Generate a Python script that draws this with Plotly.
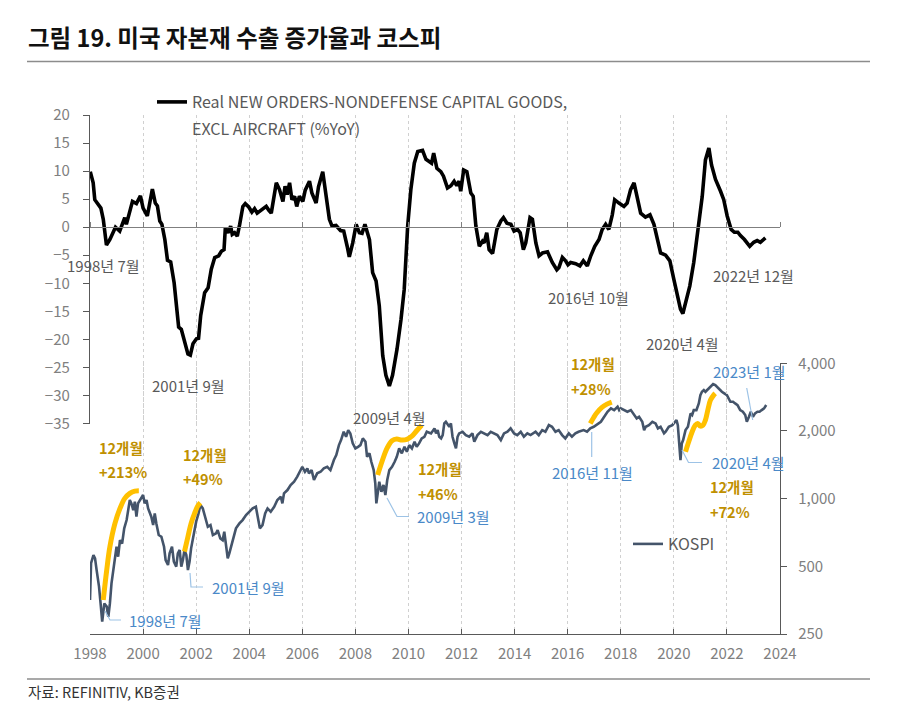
import math
import plotly.graph_objects as go

# ---------------- data ----------------
US_YEARS = [
    1998.01, 1998.12, 1998.18, 1998.31, 1998.41, 1998.50, 1998.62, 1998.75, 1998.87, 1998.96,
    1999.12, 1999.25, 1999.31, 1999.37, 1999.47, 1999.60, 1999.75, 1999.90, 2000.00, 2000.16,
    2000.35, 2000.46, 2000.54, 2000.63, 2000.71, 2000.82, 2000.92, 2001.04, 2001.17, 2001.25,
    2001.34, 2001.44, 2001.57, 2001.69, 2001.78, 2001.88, 2002.01, 2002.09, 2002.17, 2002.32,
    2002.45, 2002.57, 2002.70, 2002.85, 2002.95, 2003.05, 2003.10, 2003.20, 2003.30, 2003.36,
    2003.45, 2003.55, 2003.64, 2003.76, 2003.85, 2003.98, 2004.10, 2004.20, 2004.30, 2004.39,
    2004.55, 2004.64, 2004.74, 2004.83, 2005.02, 2005.14, 2005.27, 2005.35, 2005.43, 2005.52,
    2005.61, 2005.71, 2005.79, 2005.89, 2006.02, 2006.11, 2006.27, 2006.36, 2006.52, 2006.61,
    2006.77, 2006.90, 2007.02, 2007.12, 2007.27, 2007.44, 2007.56, 2007.69, 2007.77, 2007.90,
    2008.03, 2008.15, 2008.25, 2008.36, 2008.53, 2008.65, 2008.78, 2008.90, 2009.03, 2009.15,
    2009.28, 2009.40, 2009.57, 2009.72, 2009.84, 2009.97, 2010.09, 2010.22, 2010.35, 2010.53,
    2010.66, 2010.78, 2010.87, 2010.95, 2011.07, 2011.22, 2011.32, 2011.47, 2011.60, 2011.72,
    2011.82, 2011.91, 2011.97, 2012.08, 2012.20, 2012.35, 2012.44, 2012.54, 2012.67, 2012.79,
    2012.85, 2012.95, 2013.04, 2013.17, 2013.33, 2013.48, 2013.58, 2013.71, 2013.86, 2013.98,
    2014.11, 2014.21, 2014.33, 2014.42, 2014.58, 2014.67, 2014.80, 2014.92, 2015.05, 2015.24,
    2015.42, 2015.59, 2015.67, 2015.80, 2015.92, 2016.01, 2016.11, 2016.30, 2016.46, 2016.59,
    2016.74, 2016.87, 2017.02, 2017.18, 2017.30, 2017.43, 2017.55, 2017.68, 2017.77, 2017.93,
    2018.12, 2018.24, 2018.37, 2018.50, 2018.62, 2018.75, 2018.93, 2019.10, 2019.25, 2019.37,
    2019.50, 2019.69, 2019.85, 2020.00, 2020.15, 2020.25, 2020.34, 2020.44, 2020.60, 2020.75,
    2020.90, 2021.07, 2021.19, 2021.32, 2021.42, 2021.57, 2021.76, 2021.88, 2022.01, 2022.16,
    2022.28, 2022.41, 2022.51, 2022.66, 2022.86, 2023.01, 2023.14, 2023.26, 2023.45,
]
US_YOY = [
    9.9, 7.9, 4.9, 4.0, 3.4, 1.4, -3.2, -2.2, -0.7, 0.0,
    -0.7, 1.1, 1.7, 0.5, 2.2, 4.6, 4.2, 5.6, 3.4, 2.0,
    6.8, 4.3, 3.8, 1.1, 0.5, -2.2, -5.9, -6.2, -9.9, -14.0,
    -17.8, -18.2, -20.8, -22.6, -22.8, -20.8, -19.9, -19.8, -15.8, -11.7,
    -10.8, -7.5, -5.4, -5.1, -4.3, -4.0, -0.1, -1.0, 0.2, -1.3,
    -1.0, -1.6, 0.5, 3.7, 4.2, 3.6, 2.7, 3.3, 2.5, 2.8,
    3.4, 3.7, 3.0, 2.5, 7.9, 6.7, 4.6, 7.3, 5.8, 7.9,
    4.9, 5.5, 3.7, 5.5, 4.6, 6.6, 8.2, 6.1, 4.3, 7.2,
    9.9, 5.5, 1.4, 0.2, 0.3, -0.6, -0.7, -3.4, -5.3, -2.8,
    0.5, -1.0, -1.1, 0.5, -2.2, -8.1, -9.6, -14.0, -22.9, -26.4,
    -28.3, -26.4, -21.7, -16.4, -11.1, 0.2, 6.7, 11.4, 13.5, 13.7,
    12.1, 11.7, 11.4, 13.2, 10.5, 9.9, 9.1, 7.0, 7.4, 8.2,
    7.4, 8.2, 6.4, 10.2, 9.9, 6.1, 5.5, 0.2, -3.4, -2.5,
    -2.8, -1.0, -4.0, -4.7, -0.4, 1.1, 1.7, 0.7, 0.5, -0.7,
    -0.4, -1.0, -4.0, -2.8, 1.7, 1.4, -2.8, -5.1, -4.6, -4.4,
    -6.3, -7.6, -7.2, -5.4, -6.0, -6.7, -6.3, -6.5, -6.9, -6.0,
    -6.9, -5.1, -3.4, -2.2, -0.4, 0.5, -0.4, 2.2, 4.9, 4.3,
    3.7, 4.3, 6.7, 7.9, 4.9, 2.5, 1.8, 2.2, 0.5, -2.2,
    -4.6, -5.0, -6.0, -9.3, -12.2, -14.6, -15.4, -13.7, -10.5, -6.3,
    -0.4, 5.5, 12.0, 14.1, 11.1, 8.5, 6.4, 4.9, 2.0, -0.4,
    -0.9, -0.9, -1.5, -2.2, -3.4, -2.7, -2.4, -2.7, -1.9,
]

KOSPI_YEARS = [
    1998.00, 1998.04, 1998.13, 1998.19, 1998.25, 1998.34, 1998.41, 1998.46, 1998.54, 1998.63,
    1998.69, 1998.75, 1998.81, 1998.91, 1999.00, 1999.06, 1999.13, 1999.21, 1999.29, 1999.38,
    1999.44, 1999.50, 1999.56, 1999.63, 1999.69, 1999.75, 1999.81, 1999.91, 2000.00, 2000.06,
    2000.13, 2000.19, 2000.25, 2000.31, 2000.38, 2000.44, 2000.50, 2000.59, 2000.69, 2000.79,
    2000.85, 2000.94, 2001.00, 2001.09, 2001.16, 2001.25, 2001.31, 2001.38, 2001.44, 2001.50,
    2001.56, 2001.63, 2001.69, 2001.75, 2001.81, 2001.91, 2002.00, 2002.09, 2002.16, 2002.25,
    2002.34, 2002.44, 2002.54, 2002.63, 2002.75, 2002.81, 2002.91, 2003.00, 2003.06, 2003.13,
    2003.19, 2003.25, 2003.38, 2003.50, 2003.63, 2003.75, 2003.88, 2004.00, 2004.13, 2004.25,
    2004.31, 2004.40, 2004.50, 2004.60, 2004.69, 2004.81, 2004.94, 2005.06, 2005.19, 2005.25,
    2005.31, 2005.44, 2005.56, 2005.69, 2005.81, 2005.90, 2006.00, 2006.10, 2006.19, 2006.25,
    2006.35, 2006.44, 2006.56, 2006.69, 2006.81, 2006.94, 2007.06, 2007.19, 2007.28, 2007.38,
    2007.46, 2007.56, 2007.65, 2007.73, 2007.81, 2007.90, 2008.00, 2008.10, 2008.19, 2008.28,
    2008.38, 2008.44, 2008.53, 2008.60, 2008.69, 2008.75, 2008.79, 2008.85, 2008.90, 2008.98,
    2009.06, 2009.13, 2009.20, 2009.28, 2009.38, 2009.48, 2009.56, 2009.65, 2009.75, 2009.85,
    2009.94, 2010.03, 2010.13, 2010.23, 2010.31, 2010.40, 2010.50, 2010.60, 2010.69, 2010.85,
    2010.98, 2011.04, 2011.10, 2011.16, 2011.23, 2011.29, 2011.35, 2011.41, 2011.48, 2011.54,
    2011.60, 2011.66, 2011.73, 2011.79, 2011.85, 2011.91, 2012.04, 2012.16, 2012.29, 2012.41,
    2012.48, 2012.60, 2012.73, 2012.85, 2012.98, 2013.10, 2013.23, 2013.35, 2013.48, 2013.60,
    2013.73, 2013.85, 2013.98, 2014.10, 2014.23, 2014.35, 2014.48, 2014.60, 2014.79, 2014.91,
    2015.04, 2015.16, 2015.29, 2015.41, 2015.54, 2015.66, 2015.79, 2015.91, 2016.04, 2016.16,
    2016.29, 2016.41, 2016.60, 2016.73, 2016.85, 2016.98, 2017.25, 2017.38, 2017.50, 2017.63,
    2017.75, 2017.88, 2017.94, 2018.00, 2018.13, 2018.25, 2018.38, 2018.50, 2018.60, 2018.69,
    2018.81, 2018.88, 2018.94, 2019.06, 2019.19, 2019.31, 2019.40, 2019.50, 2019.63, 2019.69,
    2019.81, 2019.94, 2020.03, 2020.10, 2020.15, 2020.20, 2020.25, 2020.30, 2020.35, 2020.44,
    2020.53, 2020.63, 2020.69, 2020.75, 2020.85, 2020.94, 2021.00, 2021.06, 2021.13, 2021.19,
    2021.25, 2021.31, 2021.38, 2021.48, 2021.56, 2021.65, 2021.73, 2021.81, 2021.90, 2022.00,
    2022.13, 2022.23, 2022.31, 2022.40, 2022.50, 2022.60, 2022.69, 2022.75, 2022.83, 2022.90,
    2022.98, 2023.06, 2023.15, 2023.23, 2023.31, 2023.40, 2023.48,
]
KOSPI = [
    354, 516, 561, 543, 481, 406, 331, 284, 342, 331,
    298, 342, 420, 516, 611, 552, 654, 632, 738, 803,
    890, 986, 953, 890, 969, 831, 953, 1003, 1038, 953,
    986, 905, 874, 831, 763, 860, 776, 689, 677, 611,
    533, 507, 571, 611, 524, 498, 571, 591, 498, 533,
    591, 561, 481, 524, 601, 701, 790, 860, 937, 905,
    831, 750, 763, 689, 701, 725, 666, 654, 713, 601,
    543, 571, 654, 738, 776, 803, 846, 874, 905, 920,
    846, 738, 763, 860, 905, 874, 920, 986, 1020, 953,
    1056, 1092, 1150, 1189, 1252, 1317, 1386, 1317, 1363, 1296,
    1340, 1210, 1296, 1317, 1363, 1386, 1340, 1485, 1563, 1731,
    1822, 1984, 1885, 2018, 1951, 1761, 1674, 1701, 1731, 1854,
    1791, 1536, 1590, 1459, 1340, 1170, 953, 1073, 1189, 1073,
    1150, 1038, 1210, 1340, 1386, 1459, 1536, 1674, 1590, 1701,
    1617, 1731, 1674, 1791, 1701, 1761, 1854, 1885, 1984, 1951,
    2054, 1951, 2018, 1885, 1854, 1917, 2161, 2198, 2124, 2088,
    2161, 1885, 1761, 1674, 1885, 1951, 1984, 1917, 1885, 1951,
    1791, 1917, 1984, 1951, 1917, 1984, 1951, 1917, 1822, 1951,
    1984, 2054, 1951, 1917, 1984, 1885, 1951, 1917, 1984, 1917,
    2018, 1984, 2124, 2088, 1984, 2018, 1917, 1854, 1951, 1885,
    1951, 1984, 2018, 1984, 2054, 2088, 2198, 2314, 2435, 2521,
    2477, 2563, 2477, 2521, 2477, 2435, 2477, 2354, 2275, 2314,
    2198, 2018, 2088, 2124, 2198, 2161, 2054, 2088, 1951, 1984,
    2088, 2124, 2198, 2236, 2124, 1822, 1485, 1761, 1822, 2018,
    2088, 2395, 2354, 2477, 2477, 2652, 2888, 2988, 3040, 2988,
    3040, 3093, 3145, 3233, 3200, 3125, 3040, 2988, 2939, 2888,
    2697, 2697, 2652, 2608, 2477, 2435, 2354, 2198, 2314, 2435,
    2314, 2395, 2435, 2435, 2477, 2521, 2608,
]

# 12-month rally highlight curves (yellow)
RALLY_YEARS = [
    [1998.50, 1998.63, 1998.75, 1998.94, 1999.13, 1999.31, 1999.50, 1999.69, 1999.84],
    [2001.56, 2001.69, 2001.81, 2001.94, 2002.06, 2002.16],
    [2008.84, 2009.00, 2009.19, 2009.38, 2009.56, 2009.75, 2009.94, 2010.13, 2010.31, 2010.50],
    [2016.85, 2016.98, 2017.10, 2017.29, 2017.48, 2017.66],
    [2020.44, 2020.56, 2020.69, 2020.81, 2020.90, 2021.00, 2021.10, 2021.19, 2021.28, 2021.38, 2021.50, 2021.56],
]
RALLY_VALUES = [
    [354, 481, 611, 776, 905, 1003, 1056, 1081, 1085],
    [581, 677, 776, 860, 927, 959],
    [1274, 1459, 1674, 1810, 1841, 1822, 1834, 1898, 2004, 2124],
    [2161, 2297, 2411, 2547, 2634, 2688],
    [1617, 1791, 1984, 2124, 2161, 2103, 2124, 2236, 2477, 2744, 2888, 2939],
]

X_TICKS = list(range(1998, 2025, 2))
Y_LEFT_TICKS = list(range(-35, 21, 5))
Y_RIGHT_TICKS = [250, 500, 1000, 2000, 4000]
Y_RIGHT_LABELS = ["250", "500", "1,000", "2,000", "4,000"]

TITLE = "그림 19. 미국 자본재 수출 증가율과 코스피"
SOURCE = "자료: REFINITIV, KB증권"
US_NAME = "Real NEW ORDERS-NONDEFENSE CAPITAL GOODS,"
US_NAME2 = "EXCL AIRCRAFT (%YoY)"
KOSPI_NAME = "KOSPI"

GRAY_LABELS = [("1998년 7월", 65, 265), ("2001년 9월", 150, 385), ("2009년 4월", 351, 418),
               ("2016년 10월", 546, 297), ("2020년 4월", 644, 343), ("2022년 12월", 711, 275)]
BLUE_LABELS = [("1998년 7월", 127, 620), ("2001년 9월", 210, 587), ("2009년 3월", 415, 516),
               ("2016년 11월", 550, 472), ("2020년 4월", 710, 462.5), ("2023년 1월", 711, 371)]
GOLD_LABELS = [("12개월", 97, 447), ("+213%", 97, 471.5), ("12개월", 181, 454.5), ("+49%", 181, 478),
               ("12개월", 416, 468), ("+46%", 416, 493), ("12개월", 569, 363.5), ("+28%", 569, 388),
               ("12개월", 708, 487), ("+72%", 708, 511.5)]
LEADERS = [[(105, 611), (110, 620), (121, 620)],
           [(190, 573), (191, 587), (203, 587)],
           [(387, 498), (397, 516.5), (409, 516.5)],
           [(591.7, 432), (591.7, 457)],
           [(682, 450), (688.5, 462.5), (702, 462.5)],
           [(746.7, 388), (752.7, 420)]]

# ---------------- layout helpers ----------------
W, H = 900, 728
FONT = "Noto Sans CJK KR"


def px(x):
    return x / W


def py(y):
    return 1 - y / H


X_DOM = [px(90), px(780)]
Y_DOM = [py(423.5), py(115)]
Y2_DOM = [py(634), py(363.3)]
zero_pos = Y_DOM[0] + (0 - (-35)) / 55 * (Y_DOM[1] - Y_DOM[0])

fig = go.Figure()

fig.add_trace(go.Scatter(
    x=KOSPI_YEARS, y=KOSPI, xaxis="x", yaxis="y2", mode="lines",
    line=dict(color="#44546A", width=2.6), name=KOSPI_NAME, legend="legend2"))

for rx, rv in zip(RALLY_YEARS, RALLY_VALUES):
    fig.add_trace(go.Scatter(
        x=rx, y=rv, xaxis="x", yaxis="y2", mode="lines",
        line=dict(color="#FFC000", width=5, shape="spline", smoothing=1.0),
        showlegend=False, hoverinfo="skip"))

fig.add_trace(go.Scatter(
    x=US_YEARS, y=US_YOY, xaxis="x2", yaxis="y", mode="lines",
    line=dict(color="#000000", width=3.6), name=US_NAME, legend="legend"))

grid = dict(showgrid=True, gridcolor="#d0d0d0", griddash="dot", gridwidth=1)
tickfont = dict(family=FONT, size=15, color="#808080")

fig.update_layout(
    width=W, height=H, margin=dict(l=0, r=0, t=0, b=0, autoexpand=False),
    paper_bgcolor="white", plot_bgcolor="rgba(0,0,0,0)",
    font=dict(family=FONT, size=15, color="#595959"),
    xaxis=dict(domain=X_DOM, range=[1998, 2024], anchor="y2", tickmode="array",
               tickvals=X_TICKS, ticks="inside", ticklen=5, tickcolor="#595959",
               showline=True, linecolor="#595959", linewidth=1.3, zeroline=False,
               tickfont=tickfont, ticklabelstandoff=6, automargin=False, **grid),
    xaxis2=dict(overlaying="x", anchor="free", position=zero_pos, side="top",
                range=[1998, 2024], tickmode="array", tickvals=X_TICKS,
                ticks="outside", ticklen=5, tickcolor="#7f7f7f", showticklabels=False,
                showline=True, linecolor="#7f7f7f", linewidth=1.3, zeroline=False,
                automargin=False, **grid),
    yaxis=dict(domain=Y_DOM, range=[-35, 20], anchor="x2", tickmode="array",
               tickvals=Y_LEFT_TICKS, ticks="outside", ticklen=6, tickcolor="#595959",
               showline=True, linecolor="#595959", linewidth=1.3, showgrid=False,
               zeroline=False, tickfont=tickfont, ticklabelstandoff=10, automargin=False),
    yaxis2=dict(domain=Y2_DOM, type="log", range=[math.log10(250), math.log10(4000)],
                anchor="x", side="right", tickmode="array", tickvals=Y_RIGHT_TICKS,
                ticktext=Y_RIGHT_LABELS, ticks="outside", ticklen=6, tickcolor="#595959",
                showline=True, linecolor="#595959", linewidth=1.3, showgrid=False,
                zeroline=False, tickfont=tickfont, ticklabelstandoff=8, automargin=False),
    legend=dict(x=px(152), y=py(102), xanchor="left", yanchor="middle",
                bgcolor="rgba(0,0,0,0)", font=dict(family=FONT, size=16, color="#595959")),
    legend2=dict(x=px(628), y=py(544), xanchor="left", yanchor="middle",
                 bgcolor="rgba(0,0,0,0)", font=dict(family=FONT, size=16, color="#595959")),
    showlegend=True,
)

ann = []
ann.append(dict(text="<b>" + TITLE + "</b>", x=px(26), y=py(36.5), xanchor="left", yanchor="middle",
                font=dict(family=FONT, size=23.5, color="#111111")))
ann.append(dict(text=SOURCE, x=px(26), y=py(691.5), xanchor="left", yanchor="middle",
                font=dict(family=FONT, size=14.5, color="#333333")))
ann.append(dict(text=US_NAME2, x=px(190), y=py(128), xanchor="left", yanchor="middle",
                font=dict(family=FONT, size=16, color="#595959")))
for t, x, y in GRAY_LABELS:
    ann.append(dict(text=t, x=px(x), y=py(y), xanchor="left", yanchor="middle",
                    font=dict(family=FONT, size=15, color="#595959")))
for t, x, y in BLUE_LABELS:
    ann.append(dict(text=t, x=px(x), y=py(y), xanchor="left", yanchor="middle",
                    font=dict(family=FONT, size=15, color="#4A89C8")))
for t, x, y in GOLD_LABELS:
    ann.append(dict(text="<b>" + t + "</b>", x=px(x), y=py(y), xanchor="left", yanchor="middle",
                    font=dict(family=FONT, size=14.5, color="#BF9000")))
for a in ann:
    a.update(xref="paper", yref="paper", showarrow=False)
fig.update_layout(annotations=ann)

shapes = [
    dict(type="line", xref="paper", yref="paper", x0=px(27), x1=px(870), y0=py(61.5), y1=py(61.5),
         line=dict(color="#8c8c8c", width=1.5)),
    dict(type="line", xref="paper", yref="paper", x0=px(27), x1=px(870), y0=py(679), y1=py(679),
         line=dict(color="#8c8c8c", width=1.5)),
]
for pts in LEADERS:
    path = "M " + " L ".join(f"{px(x):.5f},{py(y):.5f}" for x, y in pts)
    shapes.append(dict(type="path", xref="paper", yref="paper", path=path,
                       line=dict(color="#9DC3E6", width=1.2)))
fig.update_layout(shapes=shapes)

fig.write_html("out.html")
